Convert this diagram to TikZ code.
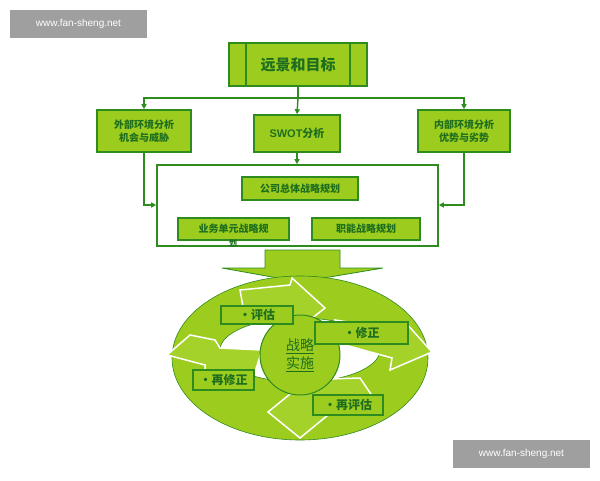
\documentclass[tikz,border=0pt]{standalone}
\usepackage{fontspec}
\setmainfont{Liberation Sans}
\newfontfamily\cjk{Noto Sans CJK SC}
\usetikzlibrary{arrows.meta}
\definecolor{lg}{HTML}{9CCC1E}
\definecolor{dg}{HTML}{2E8B1E}
\definecolor{tg}{HTML}{1E6E1E}
\definecolor{rg}{HTML}{A4D22A}
\begin{document}
\begin{tikzpicture}[x=1pt,y=-1pt,
 box/.style={draw=dg,line width=1.6pt,fill=lg,text=tg,font=\cjk\bfseries\fontsize{10}{12.5}\selectfont,align=center,inner sep=0pt},
 lbl/.style={draw=dg,line width=1.2pt,fill=lg,text=tg,font=\cjk\bfseries\fontsize{12}{14}\selectfont,inner sep=0pt},
 con/.style={draw=dg,line width=1.4pt},
 arr/.style={con,-{Triangle[length=5pt,width=5pt]}},
 ra/.style={fill=rg,draw=white,line width=1.5pt},
 wm/.style={fill=gray!75,text=white,font=\fontsize{10}{12}\selectfont,minimum width=137pt,minimum height=28pt}]
\useasboundingbox (0,0) rectangle (600,480);
\node[wm] (w1) at (78.5,24) {www.fan-sheng.net};
\node[wm] (w2) at (521.5,454) {www.fan-sheng.net};
% top
\node[box,minimum width=138pt,minimum height=43pt,font=\cjk\bfseries\fontsize{15}{17}\selectfont] (top) at (298,64.5) {远景和目标};
\draw[dg,line width=1.4pt] (246,43)--(246,86) (350,43)--(350,86);
\node[box,minimum width=94pt,minimum height=42pt] (L) at (144,131) {外部环境分析\\机会与威胁};
\node[box,minimum width=86pt,minimum height=37pt,font=\fontsize{11}{13}\selectfont\cjk\bfseries] (S) at (297,133.5) {\fontspec{Liberation Sans}SWOT\cjk 分析};
\node[box,minimum width=92pt,minimum height=42pt] (R) at (464,131) {内部环境分析\\优势与劣势};
\coordinate (j) at (298,98);
\draw[con] (top.south)--(j);
\draw[arr] (j)-|(L.north);
\draw[arr] (j)--(S.north);
\draw[arr] (j)-|(R.north);
\node[draw=dg,line width=1.6pt,fill=white,minimum width=281pt,minimum height=81pt,inner sep=0pt] (big) at (297.5,205.5) {};
\draw[arr] (S.south)--(big.north-|S.south);
\draw[arr] (L.south)|-(big.west|-0,205);
\draw[arr] (R.south)|-(big.east|-0,205);
\node[box,minimum width=116pt,minimum height=23pt] (c) at (300,188.5) {公司总体战略规划};
\node[box,minimum width=111pt,minimum height=22pt] (b) at (233.5,229) {业务单元战略规};
\node[text=tg,font=\cjk\bfseries\fontsize{8}{9}\selectfont,inner sep=0pt] (b2) at (233,243) {划};
\node[box,minimum width=108pt,minimum height=22pt] (f) at (366,229) {职能战略规划};
% big down arrow
\draw[draw=dg,line width=0.8pt,fill=lg] (265,250)--(340,250)--(340,268)--(383,268)--(300,282)--(222,268)--(265,268)--cycle;
% ring
\fill[lg,draw=dg,line width=0.6pt,even odd rule] (300,358) ellipse (128 and 82) (300,350) ellipse (80 and 32);
% ring arrows
\fill[ra] (240,290)--(290,285)--(292,278)--(325,308)--(297,330)--(295,320)--(245,318)--cycle;
\fill[ra] (335,320)--(400,330)--(405,322)--(432,352)--(390,370)--(392,358)--(345,345)--cycle;
\fill[ra] (375,400)--(330,400)--(328,415)--(300,438)--(268,412)--(295,390)--(297,380)--(360,378)--cycle;
\fill[ra] (240,385)--(205,378)--(205,365)--(167,355)--(190,335)--(215,340)--(220,348)--(262,350)--(255,372)--cycle;
% centre
\node[circle,draw=dg,line width=1pt,fill=lg,minimum size=80pt,text=tg,font=\cjk\fontsize{14}{18}\selectfont,align=center] (ctr) at (300,355) {\underline{战略}\\\underline{实施}};
\node[lbl,minimum width=72pt,minimum height=18pt] (e1) at (257,315) {•评估};
\node[lbl,minimum width=93pt,minimum height=22pt] (e2) at (361.5,333) {•修正};
\node[lbl,minimum width=61pt,minimum height=20pt] (e3) at (223.5,380) {•再修正};
\node[lbl,minimum width=70pt,minimum height=20pt] (e4) at (348,405) {•再评估};
\end{tikzpicture}
\end{document}
